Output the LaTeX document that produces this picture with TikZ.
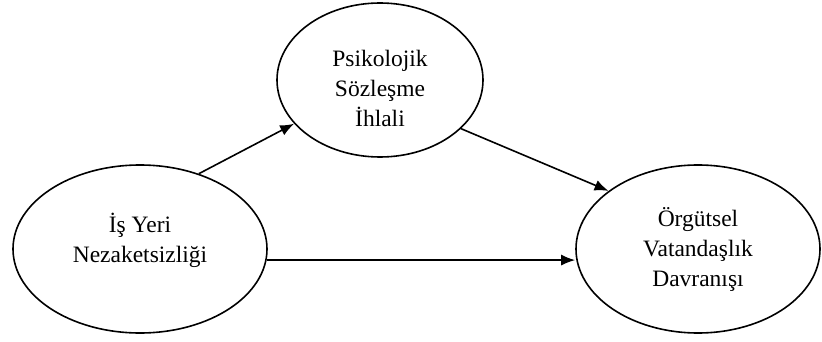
\documentclass[tikz,border=0pt]{standalone}
\usepackage{fontspec}
\setmainfont{Liberation Serif}
\usetikzlibrary{shapes.geometric,arrows.meta}
\tikzset{
  oval/.style={ellipse, draw=black, line width=1.6pt, inner sep=0pt},
  lbl/.style={align=center, inner sep=0pt, font=\fontsize{23.5}{30}\selectfont},
  arr/.style={line width=1.6pt, -{Latex[length=14pt,width=11pt]}},
}
\begin{document}
\begin{tikzpicture}[x=1pt,y=-1pt]
\useasboundingbox (0,0) rectangle (822,342);
\node[oval, minimum width=254pt, minimum height=168pt,
  label={[lbl,yshift=9pt]center:İş Yeri\\Nezaketsizliği}] (a) at (140,249) {};
\node[oval, minimum width=206pt, minimum height=154pt,
  label={[lbl,yshift=-8pt]center:Psikolojik\\Sözleşme\\İhlali}] (m) at (380,80) {};
\node[oval, minimum width=244pt, minimum height=168pt,
  label={[lbl]center:Örgütsel\\Vatandaşlık\\Davranışı}] (c) at (698,249) {};
\draw[arr] (a.52) -- (m.207);
\draw[arr] (m.-31) -- (c.147);
\draw[arr] (a.-5) -- (a.-5 -| c.west);
\end{tikzpicture}
\end{document}
